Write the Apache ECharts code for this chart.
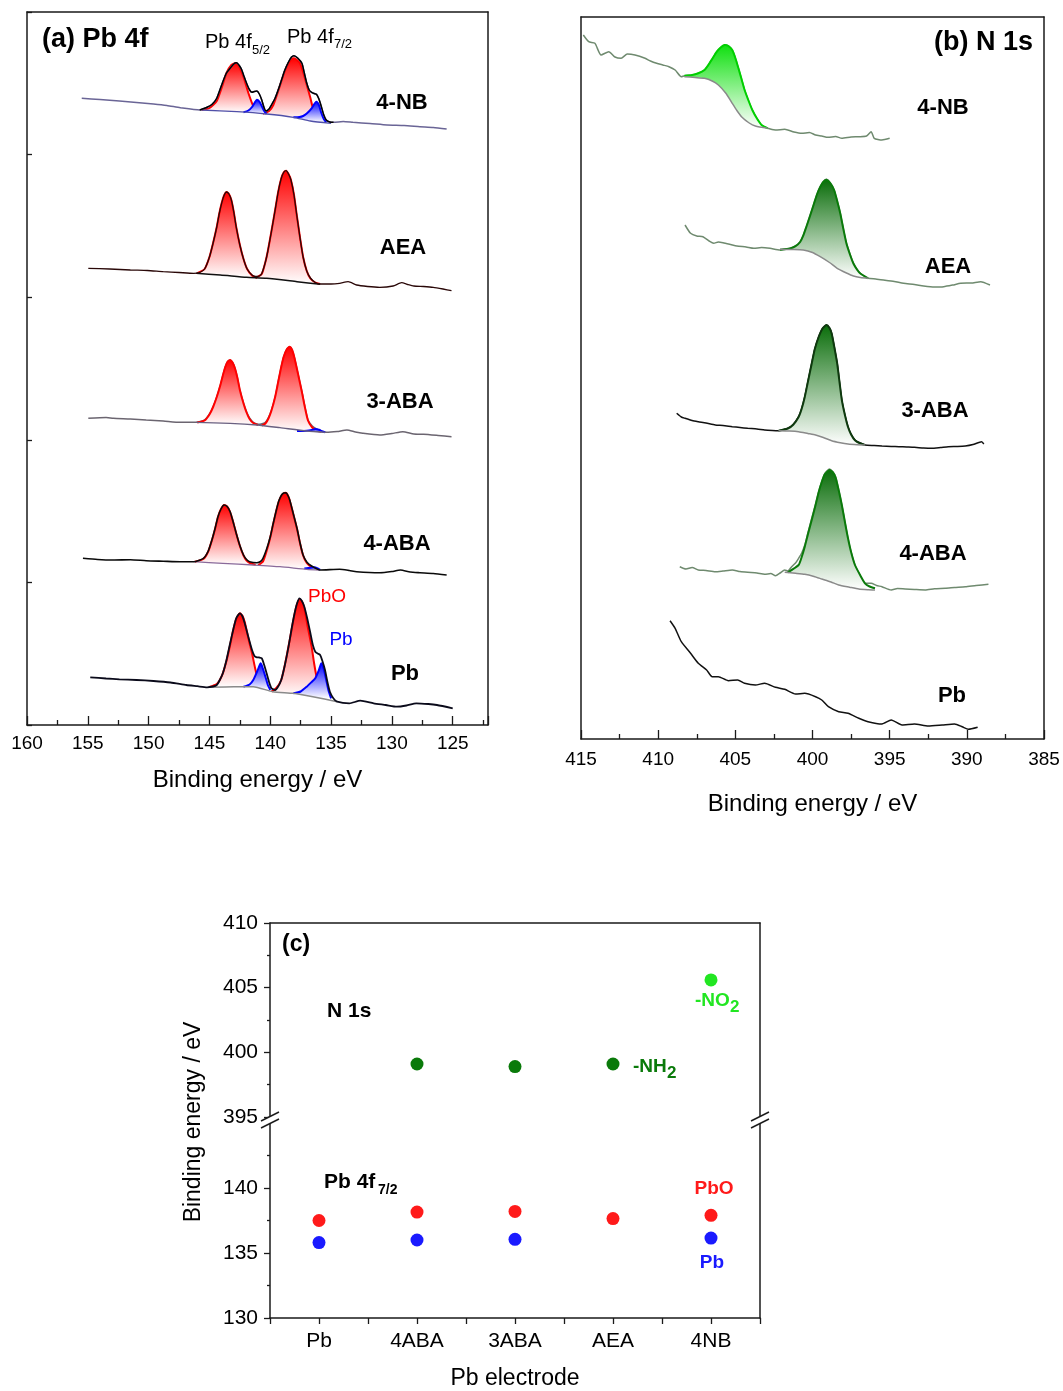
<!DOCTYPE html>
<html>
<head>
<meta charset="utf-8">
<title>XPS Pb 4f / N 1s</title>
<script src="https://cdn.jsdelivr.net/npm/echarts@6/dist/echarts.min.js"></script>
<style>
  html, body { margin: 0; padding: 0; background: #fff; }
  #chart { width: 1063px; height: 1391px; }
</style>
</head>
<body>
<div id="chart"></div>
<script>
// values: [binding energy (eV), intensity (a.u., stacked offset)]

// ---- (a) Pb 4f ----
const nbA_raw = [[155.5,626.7],[154.0,625.5],[152.4,624],[151.0,622.5],[149.6,621],[148.5,619.5],[147.4,617.3],[145.8,615],[145.2,617.7],[144.8,620.5],[144.4,626.7],[143.9,643.3],[143.6,652],[143.3,656.7],[143.0,661],[142.8,662.3],[142.4,656.7],[142.2,650],[141.95,641.7],[141.7,635],[141.5,632.7],[141.3,633.5],[141.1,634],[140.9,631],[140.7,625],[140.5,617],[140.35,614],[140.1,616],[139.9,620],[139.6,627],[139.3,636.7],[139.05,646],[138.8,655],[138.5,663],[138.25,668],[138.05,669.3],[137.75,667],[137.4,661.7],[137.2,652],[137.0,641.7],[136.8,635],[136.6,632.7],[136.4,631.5],[136.2,630.7],[136.0,626],[135.8,618.3],[135.6,610],[135.4,605],[135.1,603],[134.8,602.7],[134.0,603.5],[133.2,602.7],[131.8,601.5],[130.4,600],[129.0,599.5],[127.7,598.3],[126.6,597.5],[125.5,596]];
const nbA_bg = [[145.65,615],[142.75,613.3],[140.3,611],[138.1,607.7],[136.7,604],[135.0,601.7]];
const nbA_o52 = [[145.65,615],[145.0,617],[144.4,624],[144.0,637],[143.6,652],[143.2,660],[142.9,661.7],[142.6,659],[142.2,648],[141.8,632],[141.4,619],[141.0,612.5]];
const nbA_m52 = [[142.2,612.8],[141.8,614.5],[141.5,618],[141.25,623],[141.1,625.3],[140.9,623.5],[140.7,619],[140.5,614],[140.3,611]];
const nbA_o72 = [[140.6,611.3],[140.1,614],[139.75,620],[139.4,632],[139.1,643.3],[138.8,654],[138.5,662],[138.2,666.5],[138.05,666.7],[137.8,665],[137.55,661.7],[137.3,653],[137.0,640],[136.7,627],[136.5,617],[136.2,609],[135.9,604.5]];
const nbA_m72 = [[138.1,607.7],[137.6,608],[137.3,609],[137.0,611.5],[136.6,616.7],[136.35,621.5],[136.2,623.3],[136.0,620],[135.8,612],[135.6,606],[135.4,602.7]];

const aeaA_raw = [[154.96,456.7],[153.2,456],[151.5,455],[150.1,454.5],[148.8,453.3],[147.5,452.5],[146.3,451.7],[145.8,452.5],[145.4,456],[145.0,468],[144.7,482],[144.4,498],[144.2,511],[144.0,521.7],[143.8,529.5],[143.6,533],[143.4,531],[143.2,525],[143.0,513],[142.8,498],[142.5,480],[142.2,466],[141.9,456],[141.5,450],[141.2,448.5],[140.9,449],[140.7,451.5],[140.4,463],[140.2,474],[139.9,494],[139.6,515],[139.35,533],[139.1,546.5],[138.9,552.5],[138.7,554.3],[138.5,551],[138.3,545],[138.05,530],[137.8,508],[137.55,487],[137.3,468],[137.0,454],[136.7,447],[136.3,442.5],[135.9,441],[135.0,441],[134.3,441.7],[133.6,443.3],[132.9,440],[132.0,438.5],[131.0,437.7],[129.9,439],[129.2,442.3],[128.7,440.5],[128.2,439],[127.4,438.5],[126.6,437.7],[125.8,436],[125.1,434.3]];
const aeaA_bg = [[146.1,451.7],[144.1,450],[141.95,447.7],[140.3,446.7],[137.8,443.3],[135.9,440.7]];
const aeaA_o52 = [[146.0,451.8],[145.4,456],[145.0,468],[144.7,482],[144.4,498],[144.2,511],[144.0,521.7],[143.8,529.5],[143.6,533],[143.4,531],[143.2,525],[143.0,513],[142.8,498],[142.5,480],[142.2,466],[141.9,456],[141.5,449.5],[141.1,447.2]];
const aeaA_o72 = [[141.2,447.2],[140.7,451],[140.4,463],[140.2,474],[139.9,494],[139.6,515],[139.35,533],[139.1,546.5],[138.9,552.5],[138.7,554.3],[138.5,551],[138.3,545],[138.05,530],[137.8,508],[137.55,487],[137.3,468],[137.0,454],[136.7,446.5],[136.3,442.5],[135.9,441]];

const aba3A_raw = [[154.96,306.7],[153.5,307.5],[152.9,306.7],[151.5,306],[150.2,305],[148.8,304],[147.4,302.7],[146.1,302.7],[145.4,305],[145.0,311],[144.7,318.3],[144.4,328],[144.1,340],[143.9,349.5],[143.7,358.3],[143.5,363.5],[143.3,365],[143.1,362.5],[142.9,356.7],[142.7,347],[142.5,335],[142.2,322],[141.95,313.3],[141.7,307],[141.4,302.7],[141.1,301],[140.85,300.7],[140.6,301.5],[140.4,302.7],[140.15,307.5],[139.9,315],[139.6,328],[139.35,343.3],[139.1,358],[138.9,368.3],[138.65,375.5],[138.4,378.3],[138.2,375],[138.0,366.7],[137.7,350],[137.4,333.3],[137.15,318],[136.9,305],[136.55,299],[136.2,296],[135.8,294],[135.4,292.7],[134.5,293.5],[133.7,295],[133.0,293],[132.4,291.7],[131.0,290],[130.0,291.5],[129.1,293.3],[128.2,291],[127.4,290.7],[126.2,289.5],[125.1,288.3]];
const aba3A_bg = [[146.1,302.7],[143.3,301.7],[141.1,300],[139.2,297.3],[137.0,294],[135.4,292.7]];
const aba3A_o52 = [[146.0,302.6],[145.4,304.5],[145.0,310.5],[144.7,318],[144.4,328],[144.1,340],[143.9,349.5],[143.7,358],[143.5,363.5],[143.3,365],[143.1,362.5],[142.9,356.5],[142.7,347],[142.5,335],[142.2,321.5],[141.95,312.5],[141.7,306],[141.4,302],[141.0,300]];
const aba3A_o72 = [[140.7,299.5],[140.4,301.5],[140.15,306.5],[139.9,314.5],[139.6,328],[139.35,343],[139.1,358],[138.9,368],[138.65,375.5],[138.4,378.3],[138.2,375],[138.0,366.5],[137.7,350],[137.4,333],[137.15,317.5],[136.9,304.5],[136.55,297.5],[136.2,294.5],[135.8,293.2]];
const aba3A_m72 = [[137.8,294],[137.0,294.3],[136.6,295],[136.3,296],[136.0,295.2],[135.7,293.5],[135.5,292.7]];

const aba4A_raw = [[155.4,166.7],[154.2,165.5],[152.9,165],[151.5,165.3],[150.2,164.3],[148.8,163.8],[147.4,163.3],[146.3,163.3],[145.5,166.7],[145.1,174],[144.8,185],[144.55,196],[144.3,208.3],[144.05,216],[143.8,220],[143.55,218.5],[143.3,213.3],[143.05,203],[142.8,191.7],[142.5,179.5],[142.2,170],[141.95,165.5],[141.7,163.3],[141.1,162.3],[140.8,163.5],[140.6,166.7],[140.3,176],[140.0,188.3],[139.75,202],[139.5,215],[139.3,224],[139.07,230],[138.9,232],[138.7,232.3],[138.55,229.5],[138.4,225],[138.1,211],[137.8,196.7],[137.55,182],[137.3,170],[137.0,163],[136.6,159],[135.9,155],[134.3,155.7],[133.5,154.5],[132.9,153.3],[131.0,152.3],[130.0,153.5],[129.3,155],[128.5,153],[127.7,152.3],[126.6,151.5],[125.5,150]];
const aba4A_bg = [[146.3,163.3],[143.9,161.7],[141.4,160],[139.2,158.3],[137.0,155.7],[135.9,155]];
const aba4A_o52 = [[146.2,163.2],[145.5,166],[145.1,173.5],[144.8,184.5],[144.55,195.5],[144.3,208],[144.05,216],[143.8,220],[143.55,218.5],[143.3,213],[143.05,203],[142.8,191.5],[142.5,179],[142.2,169.5],[141.95,164.5],[141.6,161.5],[141.2,160.2]];
const aba4A_o72 = [[141.0,159.8],[140.6,163.5],[140.3,174],[140.0,187.5],[139.75,201.5],[139.5,214.5],[139.3,223.5],[139.07,229.5],[138.9,231.7],[138.7,232],[138.55,229.5],[138.4,224.5],[138.1,210.5],[137.8,196],[137.55,181.5],[137.3,169.5],[137.0,162],[136.6,157.8],[136.2,155.8]];
const aba4A_m72 = [[137.2,156.5],[136.7,157.2],[136.4,157.8],[136.1,156.6],[135.9,155.2]];

const pbA_raw = [[154.8,47.7],[153.5,46.5],[152.4,45.7],[151.0,45],[149.6,44],[148.2,42.5],[146.9,40],[146.0,38.8],[145.2,37.7],[144.7,38.5],[144.4,40],[144.15,45],[143.9,51.7],[143.6,65],[143.3,81.7],[143.05,95],[142.8,106.7],[142.5,111.7],[142.3,109],[142.1,101.7],[141.8,88],[141.5,75],[141.3,69],[141.1,67.7],[140.9,67.5],[140.7,66.7],[140.5,60],[140.3,51.7],[140.1,43],[139.9,36.7],[139.6,35],[139.35,38.5],[139.1,45],[138.8,60],[138.5,78.3],[138.25,96],[138.0,111.7],[137.8,121.5],[137.6,126.7],[137.4,124],[137.2,118.3],[136.95,106],[136.7,91.7],[136.5,80],[136.3,73.3],[136.1,71.5],[135.9,70],[135.7,63.5],[135.5,55],[135.3,43],[135.1,33.3],[134.8,26.5],[134.5,23.3],[133.5,21.7],[132.6,24.3],[131.5,21.7],[130.5,20],[129.6,18.3],[128.8,19.5],[128.0,21.7],[127.0,21],[126.3,20],[125.0,16.7]];
const pbA_bg = [[145.1,37.7],[143.0,38.3],[141.4,38.3],[139.8,33.3],[138.1,31.7],[136.5,28.3],[134.5,23.3]];
const pbA_o52 = [[145.0,38],[144.4,41],[144.15,45],[143.9,51.7],[143.6,64],[143.3,80],[143.05,95],[142.8,106],[142.5,111.7],[142.3,109.5],[142.1,103],[141.95,95],[141.75,84],[141.5,71.7],[141.25,57],[141.0,45],[140.8,39]];
const pbA_m52 = [[142.2,38.3],[141.7,40.5],[141.4,45],[141.1,53],[140.9,59],[140.8,61.7],[140.65,58],[140.4,48.3],[140.2,40],[140.0,35]];
const pbA_o72 = [[139.9,33.3],[139.5,37],[139.1,45],[138.8,60],[138.4,85],[138.1,105],[137.85,119],[137.6,125.7],[137.4,123.5],[137.2,116.7],[136.95,100],[136.6,78.3],[136.4,62],[136.2,48.3],[136.0,38],[135.8,31]];
const pbA_m72 = [[138.1,31.7],[137.5,33.5],[137.0,38.3],[136.6,43],[136.3,46.7],[136.0,55],[135.8,61.7],[135.6,56],[135.4,45],[135.2,34],[135.0,26.7]];

// ---- (b) N 1s ----
const nbB_raw = [[414.85,704],[414.5,697.3],[414.1,695.7],[413.7,684],[413.2,687.3],[412.8,682],[412.4,680.7],[412.0,685],[411.5,684],[410.85,680.7],[410.5,678],[410.1,675.7],[409.7,674],[409.3,672.3],[408.9,669],[408.5,662.3],[408.3,663.3],[407.8,664],[407.4,665.7],[407.0,669],[406.75,674],[406.5,680],[406.2,687.3],[405.95,691.5],[405.7,694],[405.45,693],[405.2,689],[405.0,681],[404.8,670.7],[404.6,660],[404.4,649],[404.15,638.5],[403.9,629],[403.6,620.5],[403.3,614],[402.9,610.7],[402.4,609],[401.8,609.7],[401.2,607],[400.7,605.7],[400.2,606.5],[399.8,604],[399.4,603],[399.0,601.7],[398.5,602.5],[398.1,600.7],[397.5,602],[397.0,602.3],[396.5,603],[396.2,607.3],[396.0,600.7],[395.5,599],[395.0,600.7]];
const nbB_bg = [[408.3,662.3],[407.6,661.5],[407.0,660.7],[406.5,658],[406.1,654],[405.6,645.5],[405.2,635.7],[404.9,628.5],[404.6,622.3],[404.1,616],[403.7,613],[402.9,610.7]];
const nbB_no2 = [[408.3,663.3],[407.8,664],[407.4,665.7],[407.0,669],[406.75,674],[406.5,680],[406.2,687.3],[405.95,691.5],[405.7,694],[405.45,693],[405.2,689],[405.0,681],[404.8,670.7],[404.6,660],[404.4,649],[404.15,638.5],[403.9,629],[403.6,620.5],[403.3,614],[402.9,610.7]];

const aeaB_raw = [[408.26,514],[407.9,505.7],[407.5,503],[407.1,502.3],[406.7,498],[406.4,495.7],[406.1,497],[405.8,496.3],[405.3,494.5],[404.9,493],[404.3,492],[403.8,490.7],[403.3,491.5],[402.75,490.7],[402.1,489],[401.45,490.7],[401.1,493],[400.8,497.3],[400.6,503.5],[400.4,512.3],[400.15,524],[399.9,535.7],[399.7,545],[399.5,552.3],[399.3,557.5],[399.1,559.7],[398.85,556],[398.6,549],[398.4,538],[398.2,525.7],[398.0,510],[397.8,495.7],[397.55,484],[397.35,475.7],[397.1,469.5],[396.9,465.7],[396.4,460.7],[395.9,460],[395.4,459],[394.7,457.5],[394.1,455.7],[393.4,454.5],[392.8,453],[392.1,452],[391.5,452.3],[390.9,454],[390.4,455.7],[389.7,456],[389.1,457.3],[388.5,454]];
const aeaB_bg = [[402.1,489.7],[401.3,489.5],[400.6,489],[400.0,486.5],[399.5,482.3],[398.9,476.5],[398.4,470.7],[397.8,466],[397.35,463],[396.9,461.5],[396.4,460.7]];
const aeaB_nh2 = [[402.1,489.3],[401.45,490.5],[401.1,492.8],[400.8,497],[400.6,503.3],[400.4,512],[400.15,523.5],[399.9,535.5],[399.7,545],[399.5,552],[399.3,557],[399.1,559.2],[398.85,556],[398.6,549],[398.4,538],[398.2,525.5],[398.0,510],[397.8,495.5],[397.55,483.5],[397.35,475.5],[397.1,469],[396.9,465.5],[396.4,460.7]];

const aba3B_raw = [[408.8,325.7],[408.5,322],[408.26,320.7],[407.8,318.5],[407.4,317.3],[406.9,316],[406.3,314],[405.8,313.5],[405.2,312.3],[404.7,311.5],[404.2,310.7],[403.6,310],[403.1,309],[402.6,308.5],[402.2,308.3],[401.6,310.7],[401.25,314.5],[400.9,322.3],[400.7,330.5],[400.5,342.3],[400.3,357],[400.05,375.7],[399.85,390],[399.6,402.3],[399.35,410.5],[399.1,414],[398.9,411],[398.76,405.7],[398.6,393],[398.4,375.7],[398.25,357],[398.1,339],[397.9,324],[397.7,312.3],[397.5,305],[397.25,299],[396.9,296],[396.6,294],[396.0,293.5],[395.5,293],[394.9,292.5],[394.4,292.3],[393.9,292],[393.4,291.7],[392.8,291],[392.3,290.7],[391.7,291.5],[391.2,292.3],[390.6,292.5],[390.1,293],[389.6,294.5],[389.04,297.3],[388.9,295]];
const aba3B_bg = [[402.2,308.3],[401.5,308],[400.9,307.3],[400.3,305.5],[399.8,304],[399.3,301.5],[398.76,298.3],[398.2,296.3],[397.7,295],[397.1,294.3],[396.6,294]];
const aba3B_nh2 = [[402.2,308.3],[401.6,310.5],[401.25,314.3],[400.9,322],[400.7,330.3],[400.5,342],[400.3,357],[400.05,375.5],[399.85,390],[399.6,402],[399.35,410.5],[399.1,414],[398.9,411],[398.76,405.5],[398.6,393],[398.4,375.5],[398.25,357],[398.1,339],[397.9,324],[397.7,312],[397.5,304.5],[397.25,298.8],[396.9,295.5],[396.6,294]];

const aba4B_raw = [[408.6,172.3],[408.2,170],[407.8,171.5],[407.4,169],[406.9,168.5],[406.3,167.3],[405.8,168],[405.2,169],[404.7,167.5],[404.2,166.7],[403.6,166],[403.1,164.7],[402.7,165.5],[402.4,163.3],[402.1,166],[401.8,169],[401.6,168],[401.35,172.3],[401.1,176],[400.9,180.7],[400.7,186],[400.5,194],[400.3,206],[400.05,220.7],[399.8,235],[399.6,247.3],[399.4,257.5],[399.2,265.7],[398.9,270],[398.7,267.5],[398.5,262.3],[398.3,249],[398.1,234],[397.9,217],[397.7,200.7],[397.5,187],[397.25,174],[396.9,163],[396.6,155.7],[396.2,155.7],[395.85,153.5],[395.5,152.3],[394.9,149],[394.5,150.5],[394.0,150],[393.4,149.5],[392.7,149],[392.1,150.2],[391.4,150.7],[390.8,151.5],[390.1,152.3],[389.4,153.5],[388.6,154.7]];
const aba4B_bg = [[401.8,166.7],[401.1,165.7],[400.5,164.7],[399.9,162.5],[399.4,160],[398.8,157],[398.3,154],[397.6,151.8],[397.0,150],[396.4,149.3],[395.95,149]];
const aba4B_nh2 = [[401.6,166.7],[400.9,174],[400.7,182],[400.5,192.3],[400.3,204.5],[400.05,219],[399.8,234],[399.6,246.7],[399.4,257],[399.2,264.7],[398.9,269],[398.7,267],[398.5,261.3],[398.3,248.5],[398.1,234],[397.9,217],[397.7,200.7],[397.5,187],[397.25,174],[396.9,163.5],[396.6,155.7],[396.3,152.5],[395.95,150.7]];

const pbB_raw = [[409.23,118.3],[408.9,110.7],[408.5,97.3],[407.9,85.7],[407.4,75.7],[406.86,69],[406.5,62.3],[406.1,62.3],[405.45,58.3],[404.85,59],[404.4,55.7],[403.7,54],[403.1,55.7],[402.4,51.7],[401.8,49.7],[401.1,45],[400.5,45.7],[399.8,42.3],[399.4,39],[398.97,32.3],[398.3,27.3],[397.7,25.7],[397.0,20.7],[396.4,17.3],[395.5,15],[394.9,19],[394.2,14],[393.4,15],[392.5,13],[391.6,14],[390.8,15],[390.3,12.3],[389.9,9.7],[389.3,11.7]];

// ---- (c) peak positions ----
const electrodes = ['Pb', '4ABA', '3ABA', 'AEA', '4NB'];
const pboBE = [137.5, 138.15, 138.2, 137.65, 137.9];
const pbBE = [135.8, 136.0, 136.05, null, 136.15];
const nh2BE = [null, 399.1, 398.9, 399.1, null];
const no2BE = [null, null, null, null, 405.6];

const FONT = '"Liberation Sans", Arial, Helvetica, sans-serif';
const AXIS_COLOR = '#1a1a1a';
const RED = '#ff0000', BLUE = '#0000ff', LIME = '#10e010', DKGREEN = '#0b6e0b';

const chart = echarts.init(document.getElementById('chart'), null, { renderer: 'canvas' });

const axisLine = { show: true, onZero: false, lineStyle: { color: AXIS_COLOR, width: 1.5 } };

function lineOnly(gridIndex, position, extra) {
  return Object.assign({
    gridIndex: gridIndex, type: 'value', position: position,
    axisLine: axisLine,
    axisTick: { show: false }, axisLabel: { show: false }, splitLine: { show: false }
  }, extra || {});
}

function fifths(v) {
  return Math.abs(v / 5 - Math.round(v / 5)) < 1e-6 ? String(Math.round(v)) : '';
}

function rawLine(xi, yi, data, color, z, width) {
  return {
    type: 'line', xAxisIndex: xi, yAxisIndex: yi, data: data, z: z,
    showSymbol: false, symbol: 'none', smooth: 0.2, silent: true,
    lineStyle: { color: color, width: width || 1.5 }
  };
}

function peak(xi, yi, comp, bg, color, lineColor, z) {
  const hi = comp[0][0], lo = comp[comp.length - 1][0];
  const under = bg.filter(p => p[0] < hi && p[0] > lo);
  return {
    type: 'custom', xAxisIndex: xi, yAxisIndex: yi, z: z, silent: true,
    data: [comp[0]],
    renderItem: function (params, api) {
      const top = comp.map(p => api.coord(p));
      const bot = under.slice().reverse().map(p => api.coord(p));
      return {
        type: 'group',
        children: [
          {
            type: 'polygon',
            shape: { points: top.concat(bot), smooth: 0.2 },
            style: {
              fill: new echarts.graphic.LinearGradient(0, 0, 0, 1, [
                { offset: 0, color: color },
                { offset: 1, color: '#ffffff' }
              ])
            }
          },
          {
            type: 'polyline',
            shape: { points: top, smooth: 0.2 },
            style: { stroke: lineColor, lineWidth: 2, fill: null }
          }
        ]
      };
    }
  };
}

const series = [];

// (a) spectra
series.push(
  peak(0, 0, nbA_o52, nbA_bg, RED, RED, 2), peak(0, 0, nbA_o72, nbA_bg, RED, RED, 2),
  peak(0, 0, nbA_m52, nbA_bg, BLUE, BLUE, 3), peak(0, 0, nbA_m72, nbA_bg, BLUE, BLUE, 3),
  rawLine(0, 0, nbA_bg, '#5050a8', 4, 1.3),
  rawLine(0, 0, nbA_raw, '#6a6596', 5),
  rawLine(0, 0, nbA_raw.filter(p => p[0] <= 145.8 && p[0] >= 134.8), '#000000', 6),

  peak(0, 0, aeaA_o52, aeaA_bg, RED, RED, 2), peak(0, 0, aeaA_o72, aeaA_bg, RED, RED, 2),
  rawLine(0, 0, aeaA_bg, '#111111', 4, 1.5),
  rawLine(0, 0, aeaA_raw, '#2a0808', 5, 1.3),

  peak(0, 0, aba3A_o52, aba3A_bg, RED, RED, 2), peak(0, 0, aba3A_o72, aba3A_bg, RED, RED, 2),
  peak(0, 0, aba3A_m72, aba3A_bg, BLUE, BLUE, 3),
  rawLine(0, 0, aba3A_bg, '#6a6080', 4, 1.3),
  rawLine(0, 0, aba3A_raw, '#6b6570', 1, 1.5),

  peak(0, 0, aba4A_o52, aba4A_bg, RED, RED, 2), peak(0, 0, aba4A_o72, aba4A_bg, RED, RED, 2),
  peak(0, 0, aba4A_m72, aba4A_bg, BLUE, BLUE, 3),
  rawLine(0, 0, aba4A_bg, '#8a6a9a', 4, 1.3),
  rawLine(0, 0, aba4A_raw, '#0a0a0a', 5, 1.6),

  peak(0, 0, pbA_o52, pbA_bg, RED, RED, 2), peak(0, 0, pbA_o72, pbA_bg, RED, RED, 2),
  peak(0, 0, pbA_m52, pbA_bg, BLUE, BLUE, 3), peak(0, 0, pbA_m72, pbA_bg, BLUE, BLUE, 3),
  rawLine(0, 0, pbA_bg, '#8a8a8a', 4, 1.5),
  rawLine(0, 0, pbA_raw, '#0a0a1a', 5, 1.8)
);

// (b) spectra
series.push(
  rawLine(2, 2, nbB_raw, '#6f8a6f', 1, 1.5),
  peak(2, 2, nbB_no2, nbB_bg, LIME, '#00d000', 3),
  rawLine(2, 2, nbB_bg, '#8a8a8a', 4, 1.5),

  rawLine(2, 2, aeaB_raw, '#6f8a6f', 1, 1.5),
  peak(2, 2, aeaB_nh2, aeaB_bg, DKGREEN, '#0a7a0a', 3),
  rawLine(2, 2, aeaB_bg, '#8a8a8a', 4, 1.5),

  rawLine(2, 2, aba3B_raw, '#111111', 1, 1.5),
  peak(2, 2, aba3B_nh2, aba3B_bg, DKGREEN, '#0e3a0e', 3),
  rawLine(2, 2, aba3B_bg, '#8a8a8a', 4, 1.5),

  rawLine(2, 2, aba4B_raw, '#6f8a6f', 1, 1.5),
  peak(2, 2, aba4B_nh2, aba4B_bg, DKGREEN, '#0a7a0a', 3),
  rawLine(2, 2, aba4B_bg, '#8a8a8a', 4, 1.5),

  rawLine(2, 2, pbB_raw, '#111111', 3, 1.5)
);

// (c) peak positions
function dots(arr) {
  return arr.map((v, i) => v == null ? null : [i, v]).filter(Boolean);
}
function scatter(xi, yi, arr, color) {
  return {
    type: 'scatter', xAxisIndex: xi, yAxisIndex: yi, data: dots(arr),
    symbol: 'circle', symbolSize: 13, silent: true, itemStyle: { color: color, opacity: 1 }
  };
}
series.push(
  scatter(4, 4, nh2BE, '#0a7a0a'),
  scatter(4, 4, no2BE, '#22e622'),
  scatter(5, 6, pboBE, '#ff1a1a'),
  scatter(5, 6, pbBE, '#1a1aff')
);

const tickLabel = { color: '#000', fontFamily: FONT };

const option = {
  animation: false,
  backgroundColor: '#ffffff',
  grid: [
    { left: 27, top: 12, width: 461, height: 713, outerBoundsMode: 'none', containLabel: false },
    { left: 581, top: 17, width: 463, height: 722, outerBoundsMode: 'none', containLabel: false },
    { left: 270, top: 923, width: 490, height: 194, outerBoundsMode: 'none', containLabel: false },
    { left: 270, top: 1123, width: 490, height: 195, outerBoundsMode: 'none', containLabel: false }
  ],
  xAxis: [
    {
      gridIndex: 0, type: 'value', inverse: true, min: 122.1, max: 160, splitNumber: 8,
      position: 'bottom',
      axisLine: axisLine,
      axisTick: { show: true, inside: true, length: 9, lineStyle: { color: AXIS_COLOR, width: 1.3 } },
      minorTick: { show: true, splitNumber: 2, length: 5, lineStyle: { color: AXIS_COLOR, width: 1.3 } },
      axisLabel: Object.assign({ fontSize: 19, margin: 9, formatter: fifths }, tickLabel),
      splitLine: { show: false }, minorSplitLine: { show: false },
      name: 'Binding energy / eV', nameLocation: 'middle', nameGap: 43,
      nameTextStyle: { fontSize: 24, color: '#000', fontFamily: FONT }
    },
    lineOnly(0, 'top', { inverse: true, min: 122.1, max: 160 }),
    {
      gridIndex: 1, type: 'value', inverse: true, min: 385, max: 415, interval: 5,
      position: 'bottom',
      axisLine: axisLine,
      axisTick: { show: true, inside: true, length: 9, lineStyle: { color: AXIS_COLOR, width: 1.3 } },
      minorTick: { show: true, splitNumber: 2, length: 5, lineStyle: { color: AXIS_COLOR, width: 1.3 } },
      axisLabel: Object.assign({ fontSize: 19, margin: 11, formatter: fifths }, tickLabel),
      splitLine: { show: false }, minorSplitLine: { show: false },
      name: 'Binding energy / eV', nameLocation: 'middle', nameGap: 53,
      nameTextStyle: { fontSize: 24, color: '#000', fontFamily: FONT }
    },
    lineOnly(1, 'top', { inverse: true, min: 385, max: 415 }),
    lineOnly(2, 'top', { min: -0.5, max: 4.5 }),
    {
      gridIndex: 3, type: 'value', min: -0.5, max: 4.5, interval: 0.5, position: 'bottom',
      axisLine: axisLine,
      axisTick: { show: true, inside: false, length: 6, lineStyle: { color: AXIS_COLOR, width: 1.3 } },
      axisLabel: Object.assign({
        fontSize: 21, margin: 13,
        formatter: function (v) {
          const i = Math.round(v);
          return Math.abs(v - i) < 1e-6 && electrodes[i] ? electrodes[i] : '';
        }
      }, tickLabel),
      splitLine: { show: false },
      name: 'Pb electrode', nameLocation: 'middle', nameGap: 49,
      nameTextStyle: { fontSize: 23, color: '#000', fontFamily: FONT }
    }
  ],
  yAxis: [
    {
      gridIndex: 0, type: 'value', min: 0, max: 713, interval: 142.6, position: 'left',
      axisLine: axisLine,
      axisTick: { show: true, inside: true, length: 5, lineStyle: { color: AXIS_COLOR, width: 1.3 } },
      axisLabel: { show: false }, splitLine: { show: false }
    },
    lineOnly(0, 'right', { min: 0, max: 713 }),
    lineOnly(1, 'left', { min: 0, max: 722 }),
    lineOnly(1, 'right', { min: 0, max: 722 }),
    {
      gridIndex: 2, type: 'value', min: 395, max: 410, interval: 5, position: 'left',
      axisLine: axisLine,
      axisTick: { show: true, inside: false, length: 6, lineStyle: { color: AXIS_COLOR, width: 1.3 } },
      minorTick: { show: true, splitNumber: 2, length: 3, lineStyle: { color: AXIS_COLOR, width: 1.3 } },
      axisLabel: Object.assign({ fontSize: 21, margin: 12 }, tickLabel),
      splitLine: { show: false }, minorSplitLine: { show: false }
    },
    lineOnly(2, 'right', { min: 395, max: 410 }),
    {
      gridIndex: 3, type: 'value', min: 130, max: 145, interval: 5, position: 'left',
      axisLine: axisLine,
      axisTick: { show: true, inside: false, length: 6, lineStyle: { color: AXIS_COLOR, width: 1.3 } },
      minorTick: { show: true, splitNumber: 2, length: 3, lineStyle: { color: AXIS_COLOR, width: 1.3 } },
      axisLabel: Object.assign({ fontSize: 21, margin: 12, formatter: v => (v >= 145 ? '' : String(v)) }, tickLabel),
      splitLine: { show: false }, minorSplitLine: { show: false }
    },
    lineOnly(3, 'right', { min: 130, max: 145 })
  ],
  series: series
};

chart.setOption(option);

// annotations
function txt(x, y, s, size, opt) {
  opt = opt || {};
  return {
    type: 'text', x: x, y: y, z: 100, rotation: opt.rotation || 0, silent: true,
    style: {
      text: s, fill: opt.color || '#000',
      font: (opt.bold ? 'bold ' : '') + size + 'px ' + FONT,
      align: opt.align || 'center', verticalAlign: 'middle'
    }
  };
}
function brk(x, y) {
  return [
    { type: 'polygon', z: 99, silent: true, shape: { points: [[x - 9, y + 1], [x + 9, y - 8], [x + 9, y - 1], [x - 9, y + 8]] }, style: { fill: '#fff' } },
    { type: 'line', z: 100, silent: true, shape: { x1: x - 9, y1: y + 1, x2: x + 9, y2: y - 8 }, style: { stroke: AXIS_COLOR, lineWidth: 1.5 } },
    { type: 'line', z: 100, silent: true, shape: { x1: x - 9, y1: y + 8, x2: x + 9, y2: y - 1 }, style: { stroke: AXIS_COLOR, lineWidth: 1.5 } }
  ];
}

const gLeft = chart.convertToPixel({ gridIndex: 3 }, [-0.5, 145]);
const gRight = chart.convertToPixel({ gridIndex: 3 }, [4.5, 145]);

const graphics = [
  txt(42, 40, '(a) Pb 4f', 27, { bold: true, align: 'left' }),
  txt(205, 42, 'Pb 4f', 20, { align: 'left' }),
  txt(252, 50, '5/2', 13, { align: 'left' }),
  txt(287, 37, 'Pb 4f', 20, { align: 'left' }),
  txt(334, 44, '7/2', 13, { align: 'left' }),
  txt(402, 103, '4-NB', 22, { bold: true }),
  txt(403, 248, 'AEA', 22, { bold: true }),
  txt(400, 402, '3-ABA', 22, { bold: true }),
  txt(397, 544, '4-ABA', 22, { bold: true }),
  txt(405, 674, 'Pb', 22, { bold: true }),
  txt(327, 597, 'PbO', 19, { color: RED }),
  txt(341, 640, 'Pb', 19, { color: BLUE }),

  txt(1033, 43, '(b) N 1s', 27, { bold: true, align: 'right' }),
  txt(943, 108, '4-NB', 22, { bold: true }),
  txt(948, 267, 'AEA', 22, { bold: true }),
  txt(935, 411, '3-ABA', 22, { bold: true }),
  txt(933, 554, '4-ABA', 22, { bold: true }),
  txt(952, 696, 'Pb', 22, { bold: true }),

  txt(282, 945, '(c)', 23, { bold: true, align: 'left' }),
  txt(327, 1011, 'N 1s', 21, { bold: true, align: 'left' }),
  txt(324, 1182, 'Pb 4f', 21, { bold: true, align: 'left' }),
  txt(378, 1190, '7/2', 14, { bold: true, align: 'left' }),
  txt(695, 1001, '-NO', 19, { bold: true, align: 'left', color: '#22e622' }),
  txt(730, 1007, '2', 17, { bold: true, align: 'left', color: '#22e622' }),
  txt(633, 1067, '-NH', 19, { bold: true, align: 'left', color: '#0a7a0a' }),
  txt(667, 1073, '2', 17, { bold: true, align: 'left', color: '#0a7a0a' }),
  txt(714, 1189, 'PbO', 19, { bold: true, color: '#ff1a1a' }),
  txt(712, 1263, 'Pb', 19, { bold: true, color: '#1a1aff' }),
  txt(194, 1122, 'Binding energy / eV', 23, { rotation: Math.PI / 2 })
].concat(brk(gLeft[0], gLeft[1] - 3), brk(gRight[0], gRight[1] - 3));

chart.setOption({ graphic: graphics });
</script>
</body>
</html>
